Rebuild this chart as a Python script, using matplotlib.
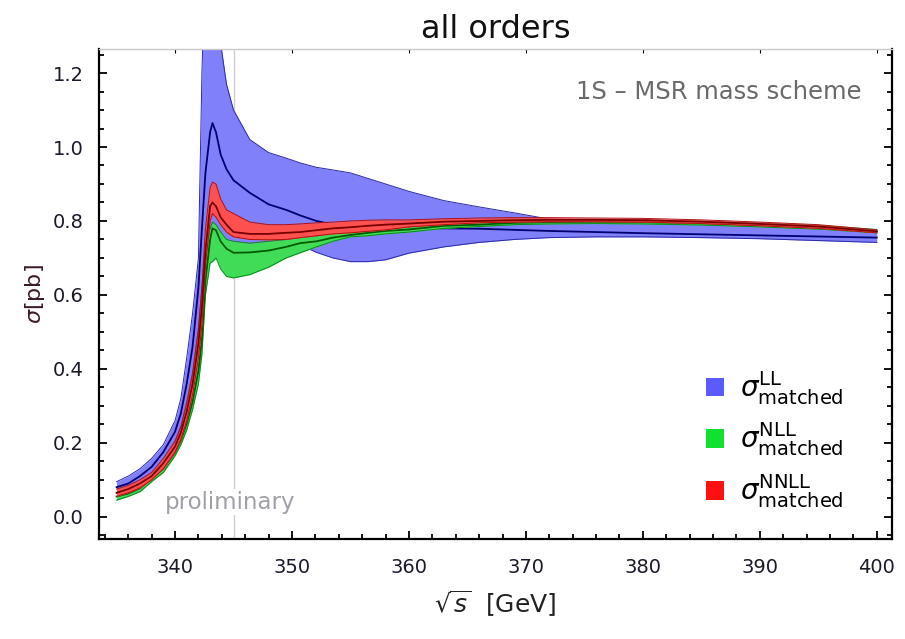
import matplotlib
matplotlib.use("Agg")
import matplotlib.pyplot as plt
from matplotlib.patches import Patch
from matplotlib.ticker import MultipleLocator

plt.rcParams['font.family'] = ['DejaVu Sans']
plt.rcParams['mathtext.fontset'] = 'dejavusans'

# sqrt(s) grid [GeV]
sqrt_s = [335, 336, 337, 338, 339, 340, 340.5, 341, 341.5, 342, 342.3, 342.6, 343.0, 343.2,
          343.5, 343.9, 344.4, 345.0, 346.4, 348.0, 349.5, 350.7, 352.1, 353.5, 355.0, 356.5,
          358, 360, 363, 366, 369, 372, 376, 380, 385, 390, 395, 400]

# LL band
LL_lo = [0.065, 0.075, 0.09, 0.115, 0.15, 0.20, 0.24, 0.30, 0.38, 0.50, 0.62, 0.74, 0.78, 0.78,
         0.77, 0.75, 0.73, 0.72, 0.73, 0.74, 0.74, 0.735, 0.715, 0.70, 0.69, 0.69,
         0.695, 0.713, 0.73, 0.742, 0.75, 0.755, 0.757, 0.757, 0.755, 0.752, 0.747, 0.742]
LL_c = [0.08, 0.09, 0.11, 0.135, 0.175, 0.23, 0.28, 0.36, 0.46, 0.62, 0.78, 0.93, 1.04, 1.065,
        1.04, 0.98, 0.94, 0.91, 0.876, 0.845, 0.83, 0.815, 0.80, 0.79, 0.784, 0.782,
        0.781, 0.78, 0.78, 0.779, 0.776, 0.773, 0.77, 0.767, 0.764, 0.761, 0.758, 0.755]
LL_hi = [0.095, 0.11, 0.13, 0.158, 0.195, 0.26, 0.32, 0.43, 0.55, 0.70, 1.20, 1.55, 1.62, 1.62,
         1.5, 1.28, 1.17, 1.10, 1.02, 0.985, 0.97, 0.957, 0.945, 0.938, 0.93, 0.915,
         0.90, 0.88, 0.855, 0.838, 0.822, 0.805, 0.80, 0.795, 0.79, 0.785, 0.778, 0.772]

# NLL band
NLL_lo = [0.045, 0.055, 0.068, 0.095, 0.12, 0.165, 0.195, 0.235, 0.29, 0.36, 0.44, 0.60, 0.686, 0.69,
          0.70, 0.67, 0.65, 0.646, 0.655, 0.675, 0.70, 0.714, 0.73, 0.745, 0.757, 0.76,
          0.765, 0.77, 0.78, 0.785, 0.79, 0.792, 0.793, 0.792, 0.789, 0.784, 0.778, 0.768]
NLL_c = [0.055, 0.063, 0.077, 0.105, 0.13, 0.174, 0.207, 0.252, 0.312, 0.395, 0.48, 0.64, 0.75, 0.78,
         0.775, 0.745, 0.725, 0.714, 0.715, 0.72, 0.73, 0.74, 0.745, 0.755, 0.762, 0.768,
         0.773, 0.777, 0.787, 0.79, 0.795, 0.797, 0.798, 0.797, 0.794, 0.789, 0.783, 0.772]
NLL_hi = [0.065, 0.073, 0.087, 0.115, 0.14, 0.183, 0.22, 0.27, 0.335, 0.43, 0.52, 0.68, 0.78, 0.797,
          0.79, 0.77, 0.75, 0.745, 0.74, 0.745, 0.75, 0.755, 0.76, 0.768, 0.772, 0.777,
          0.783, 0.784, 0.795, 0.797, 0.80, 0.803, 0.803, 0.802, 0.799, 0.794, 0.788, 0.777]

# NNLL band
NNLL_lo = [0.055, 0.065, 0.078, 0.10, 0.13, 0.175, 0.21, 0.26, 0.33, 0.43, 0.52, 0.68, 0.80, 0.82,
           0.81, 0.79, 0.77, 0.757, 0.75, 0.749, 0.75, 0.755, 0.76, 0.765, 0.768, 0.772,
           0.776, 0.784, 0.79, 0.795, 0.797, 0.798, 0.798, 0.797, 0.793, 0.787, 0.78, 0.768]
NNLL_c = [0.065, 0.075, 0.09, 0.11, 0.145, 0.19, 0.228, 0.285, 0.36, 0.47, 0.57, 0.72, 0.84, 0.85,
          0.84, 0.81, 0.79, 0.77, 0.765, 0.765, 0.768, 0.77, 0.775, 0.78, 0.783, 0.787,
          0.79, 0.793, 0.798, 0.80, 0.802, 0.803, 0.803, 0.802, 0.798, 0.792, 0.785, 0.772]
NNLL_hi = [0.075, 0.085, 0.10, 0.12, 0.158, 0.205, 0.245, 0.31, 0.39, 0.51, 0.62, 0.78, 0.89, 0.905,
           0.90, 0.86, 0.83, 0.82, 0.797, 0.79, 0.79, 0.792, 0.795, 0.797, 0.80, 0.802,
           0.803, 0.803, 0.806, 0.808, 0.809, 0.809, 0.808, 0.807, 0.803, 0.797, 0.79, 0.776]

labels = [r'$\sigma^{\mathrm{LL}}_{\mathrm{matched}}$',
          r'$\sigma^{\mathrm{NLL}}_{\mathrm{matched}}$',
          r'$\sigma^{\mathrm{NNLL}}_{\mathrm{matched}}$']
x_ticks = [340, 350, 360, 370, 380, 390, 400]
y_ticks = [0.0, 0.2, 0.4, 0.6, 0.8, 1.0, 1.2]
threshold = 345.0

fig = plt.figure(figsize=(9.05, 6.39), dpi=100)
ax = fig.add_axes([0.1094, 0.1565, 0.8762, 0.7668])

ax.axvline(threshold, color='#cfcfcf', lw=1.0, zorder=0)

bands = [
    (LL_lo, LL_c, LL_hi, '#8080fa', '#2a2aa8', '#000070'),
    (NLL_lo, NLL_c, NLL_hi, '#40dc58', '#0a8a1a', '#005a00'),
    (NNLL_lo, NNLL_c, NNLL_hi, '#ff5050', '#b01010', '#7a0000'),
]
z = 1
for lo, c, hi, fc, ec, cc in bands:
    ax.fill_between(sqrt_s, lo, hi, color=fc, lw=0, zorder=z)
    ax.plot(sqrt_s, lo, color=ec, lw=0.7, zorder=z + 0.1)
    ax.plot(sqrt_s, hi, color=ec, lw=0.7, zorder=z + 0.1)
    ax.plot(sqrt_s, c, color=cc, lw=1.3, zorder=z + 0.2)
    z += 1

ax.set_xlim(333.5, 401.3)
ax.set_ylim(-0.06, 1.265)
ax.set_xticks(x_ticks)
ax.set_yticks(y_ticks)
ax.set_yticklabels([f'{v:.1f}' for v in y_ticks])
ax.xaxis.set_minor_locator(MultipleLocator(2))
ax.yaxis.set_minor_locator(MultipleLocator(0.05))
ax.tick_params(which='both', direction='in', top=True, right=True, width=1.3, color='black')
ax.tick_params(which='major', length=6, labelsize=14, labelcolor='#1a1a2a')
ax.tick_params(axis='x', which='major', pad=14)
ax.tick_params(axis='y', which='major', pad=11)
ax.tick_params(which='minor', length=3.5)
for sp in ['left', 'bottom', 'right']:
    ax.spines[sp].set_linewidth(1.6)
ax.spines['top'].set_color('#c8c8c8')
ax.spines['top'].set_linewidth(1.0)
for t in ax.xaxis.get_major_ticks():
    t.tick2line.set_color('#c8c8c8')
    t.tick2line.set_markeredgewidth(0.8)
    t.tick2line.set_markersize(3)
for t in ax.xaxis.get_minor_ticks():
    t.tick2line.set_visible(False)

ax.set_title('all orders', fontsize=23, pad=8, color='#111111')
ax.set_xlabel(r'$\sqrt{s}$  [GeV]', fontsize=18, labelpad=8, color='#222222')
ax.set_ylabel(r'$\sigma$[pb]', fontsize=16, labelpad=4, color='#3a1a2a')

ax.text(0.962, 0.912, '1S \u2013 MSR mass scheme', transform=ax.transAxes, ha='right',
        va='center', fontsize=17.5, color='#6a6a6a')
ax.text(344.7, 0.04, 'proliminary', ha='center', va='center', fontsize=16.5, color='#a0a0a8',
        bbox=dict(facecolor='white', edgecolor='none', pad=1), zorder=0.5)

handles = [Patch(facecolor='#5a5aff'), Patch(facecolor='#10e030'), Patch(facecolor='#ff1010')]
leg = ax.legend(handles, labels, loc='upper left', bbox_to_anchor=(0.752, 0.462),
                bbox_transform=fig.transFigure, frameon=False, fontsize=20,
                handlelength=0.65, handleheight=0.65, handletextpad=0.6, labelspacing=0.5)

fig.savefig('out.png', dpi=100)
